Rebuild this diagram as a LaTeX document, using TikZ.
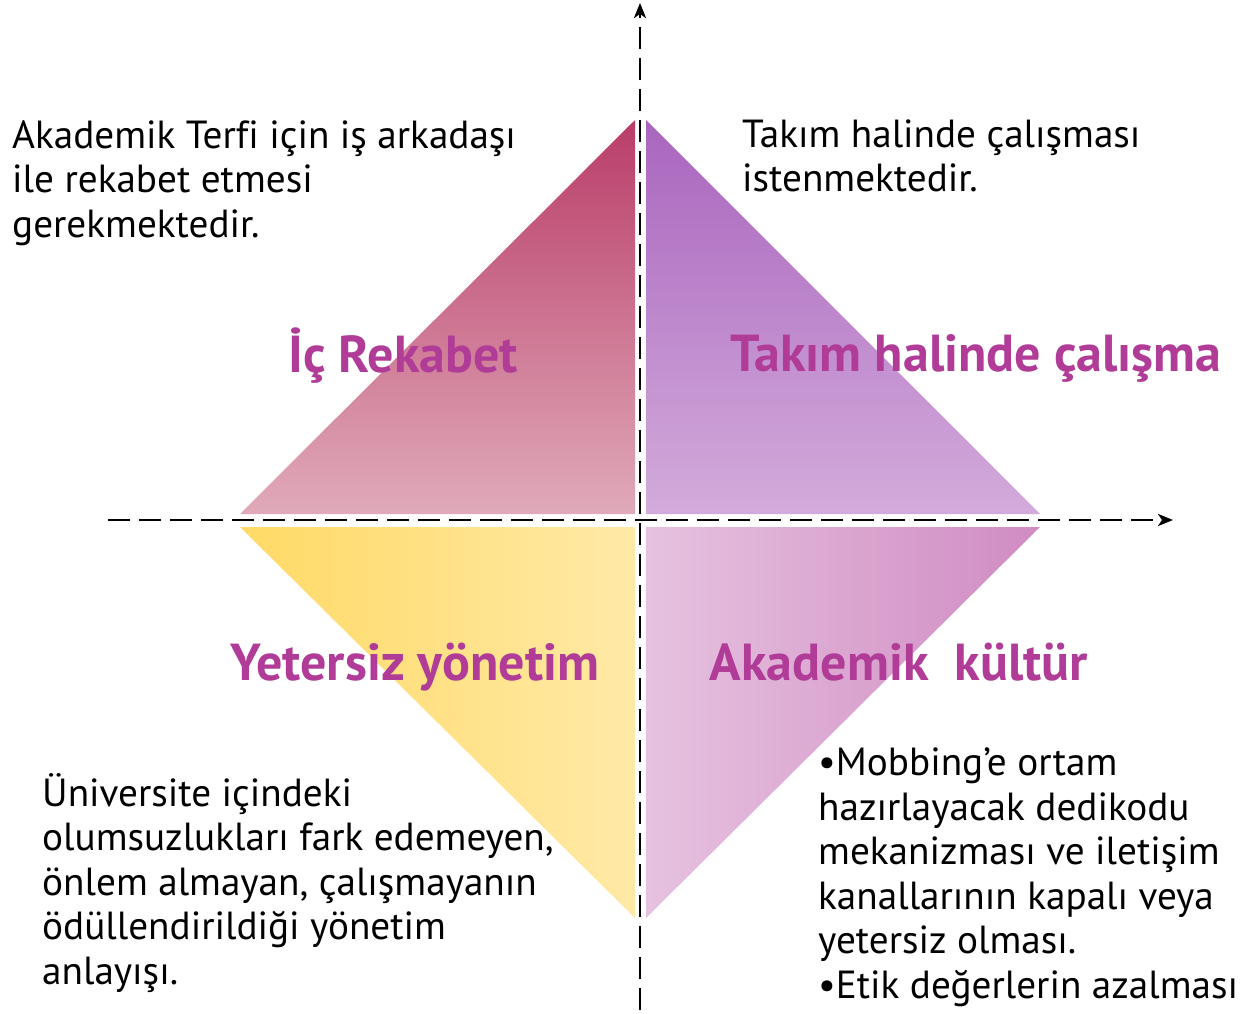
\documentclass[tikz,border=0pt]{standalone}
\usepackage{fontspec}
\setmainfont{PT Sans}[Ligatures=NoCommon]
\usetikzlibrary{arrows.meta}
\definecolor{lbl}{RGB}{176,60,152}
\definecolor{tlTop}{RGB}{185,61,105}
\definecolor{tlBot}{RGB}{224,170,185}
\definecolor{trTop}{RGB}{169,101,190}
\definecolor{trBot}{RGB}{211,171,219}
\definecolor{blL}{RGB}{255,218,102}
\definecolor{blR}{RGB}{255,233,166}
\definecolor{brL}{RGB}{230,194,224}
\definecolor{brR}{RGB}{208,139,194}
\begin{document}
\begin{tikzpicture}[x=1pt,y=-1pt,
  axisline/.style={line width=2.8pt, dash pattern=on 22pt off 9pt, -{Stealth[length=15pt,width=12pt,inset=4pt]}},
  lab/.style={font=\fontsize{52}{58}\selectfont\bfseries, text=lbl, inner sep=0pt, anchor=base},
  body/.style={font=\fontsize{39.2}{44.5}\selectfont, align=left, inner sep=0pt, anchor=base west}]
\useasboundingbox (0,0) rectangle (1240,1014);
% quadrant triangles
\shade[top color=tlTop, bottom color=tlBot] (635,120) -- (240,514) -- (635,514) -- cycle;
\shade[top color=trTop, bottom color=trBot] (646,120) -- (1040,514) -- (646,514) -- cycle;
\shade[left color=blL, right color=blR] (240,527) -- (635,527) -- (635,918) -- cycle;
\shade[left color=brL, right color=brR] (646,527) -- (1040,527) -- (646,918) -- cycle;
% axes
\coordinate (xs) at (108,520);
\coordinate (xe) at (1173,520);
\coordinate (ys) at (640,1010);
\coordinate (ye) at (640,3);
\draw[axisline] (xs) -- (xe);
\draw[axisline] (ys) -- (ye);
% labels
\node[lab] (l1) at (403,372) {İç Rekabet};
\node[lab] (l2) at (976,371) {Takım halinde çalışma};
\node[lab] (l3) at (415,680) {Yetersiz yönetim};
\node[lab] (l4) at (899,680) {Akademik\ \ kültür};
% texts (anchor = baseline of last line)
\node[body] (t1) at (12,237) {Akademik Terfi için iş arkadaşı\\ile rekabet etmesi\\gerekmektedir.};
\node[body] (t2) at (742,192) {Takım halinde çalışması\\istenmektedir.};
\node[body] (t3) at (42,984) {Üniversite içindeki\\olumsuzlukları fark edemeyen,\\önlem almayan, çalışmayanın\\ödüllendirildiği yönetim\\anlayışı.};
\node[body] (t4) at (818,998) {•Mobbing’e ortam\\hazırlayacak dedikodu\\mekanizması ve iletişim\\kanallarının kapalı veya\\yetersiz olması.\\•Etik değerlerin azalması};
\end{tikzpicture}
\end{document}
